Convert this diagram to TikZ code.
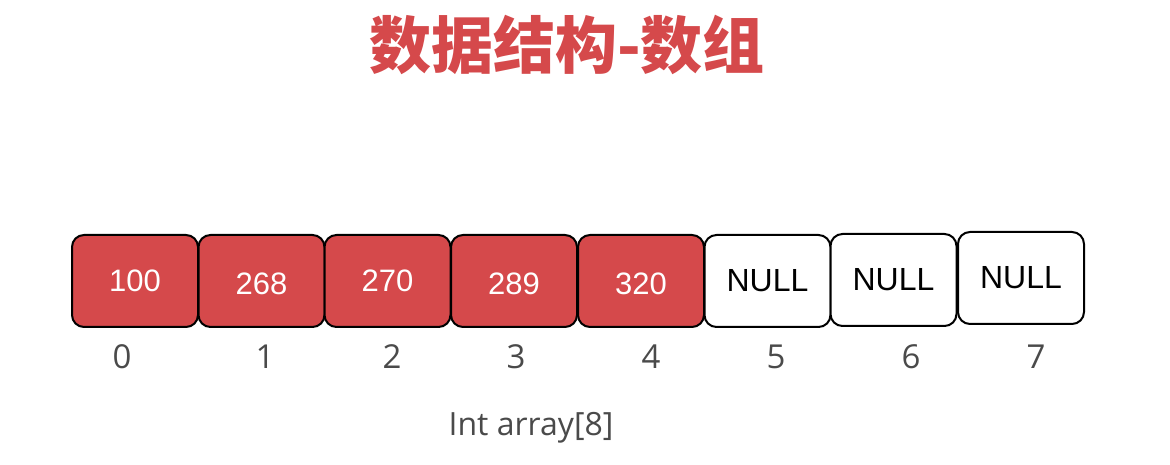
\documentclass[tikz,border=0pt]{standalone}
\usepackage{fontspec}
\newfontfamily\cjk{Noto Sans CJK SC}
\newfontfamily\arialf{Liberation Sans}
\newfontfamily\labf{Open Sans}
\definecolor{cellred}{HTML}{D5494B}
\definecolor{labgray}{HTML}{4A4A4A}
\newcommand{\lowtxt}[1]{\raisebox{-3pt}[\height][\depth]{#1}}
\tikzset{
  cell/.style={draw=black, line width=2pt, rounded corners=12pt,
    minimum width=126pt, minimum height=92pt, inner sep=0pt,
    font=\arialf\fontsize{31}{31}\selectfont},
  full/.style={cell, fill=cellred, text=white},
  empty/.style={cell, fill=white, text=black, font=\arialf\fontsize{32}{32}\selectfont},
  idx/.style={text=labgray, font=\labf\fontsize{33}{33}\selectfont, inner sep=0pt},
}
\begin{document}
\begin{tikzpicture}[x=1pt,y=1pt]
\useasboundingbox (0,0) rectangle (1170,465);
\node[text=cellred, font=\cjk\bfseries\fontsize{62}{62}\selectfont, inner sep=0pt] (title) at (567,420) {数据结构-数组};
\node[full]  (c0) at (135,184)   {100};
\node[full]  (c1) at (261.5,184) {\lowtxt{268}};
\node[full]  (c2) at (387.5,184) {270};
\node[full]  (c3) at (514,184)   {\lowtxt{289}};
\node[full]  (c4) at (641,184)   {\lowtxt{320}};
\node[empty] (c5) at (767.5,184) {NULL};
\node[empty] (c6) at (893.5,185) {NULL};
\node[empty] (c7) at (1021,187)  {NULL};
\node[idx] (i0) at (122,108) {0};
\node[idx] (i1) at (265,108) {1};
\node[idx] (i2) at (392,108) {2};
\node[idx] (i3) at (516,108) {3};
\node[idx] (i4) at (651,108) {4};
\node[idx] (i5) at (776,108) {5};
\node[idx] (i6) at (911,108) {6};
\node[idx] (i7) at (1036,108) {7};
\node[text=labgray, font=\labf\fontsize{32}{32}\selectfont, inner sep=0pt] (cap) at (531,37) {Int array[8]};
\end{tikzpicture}
\end{document}
